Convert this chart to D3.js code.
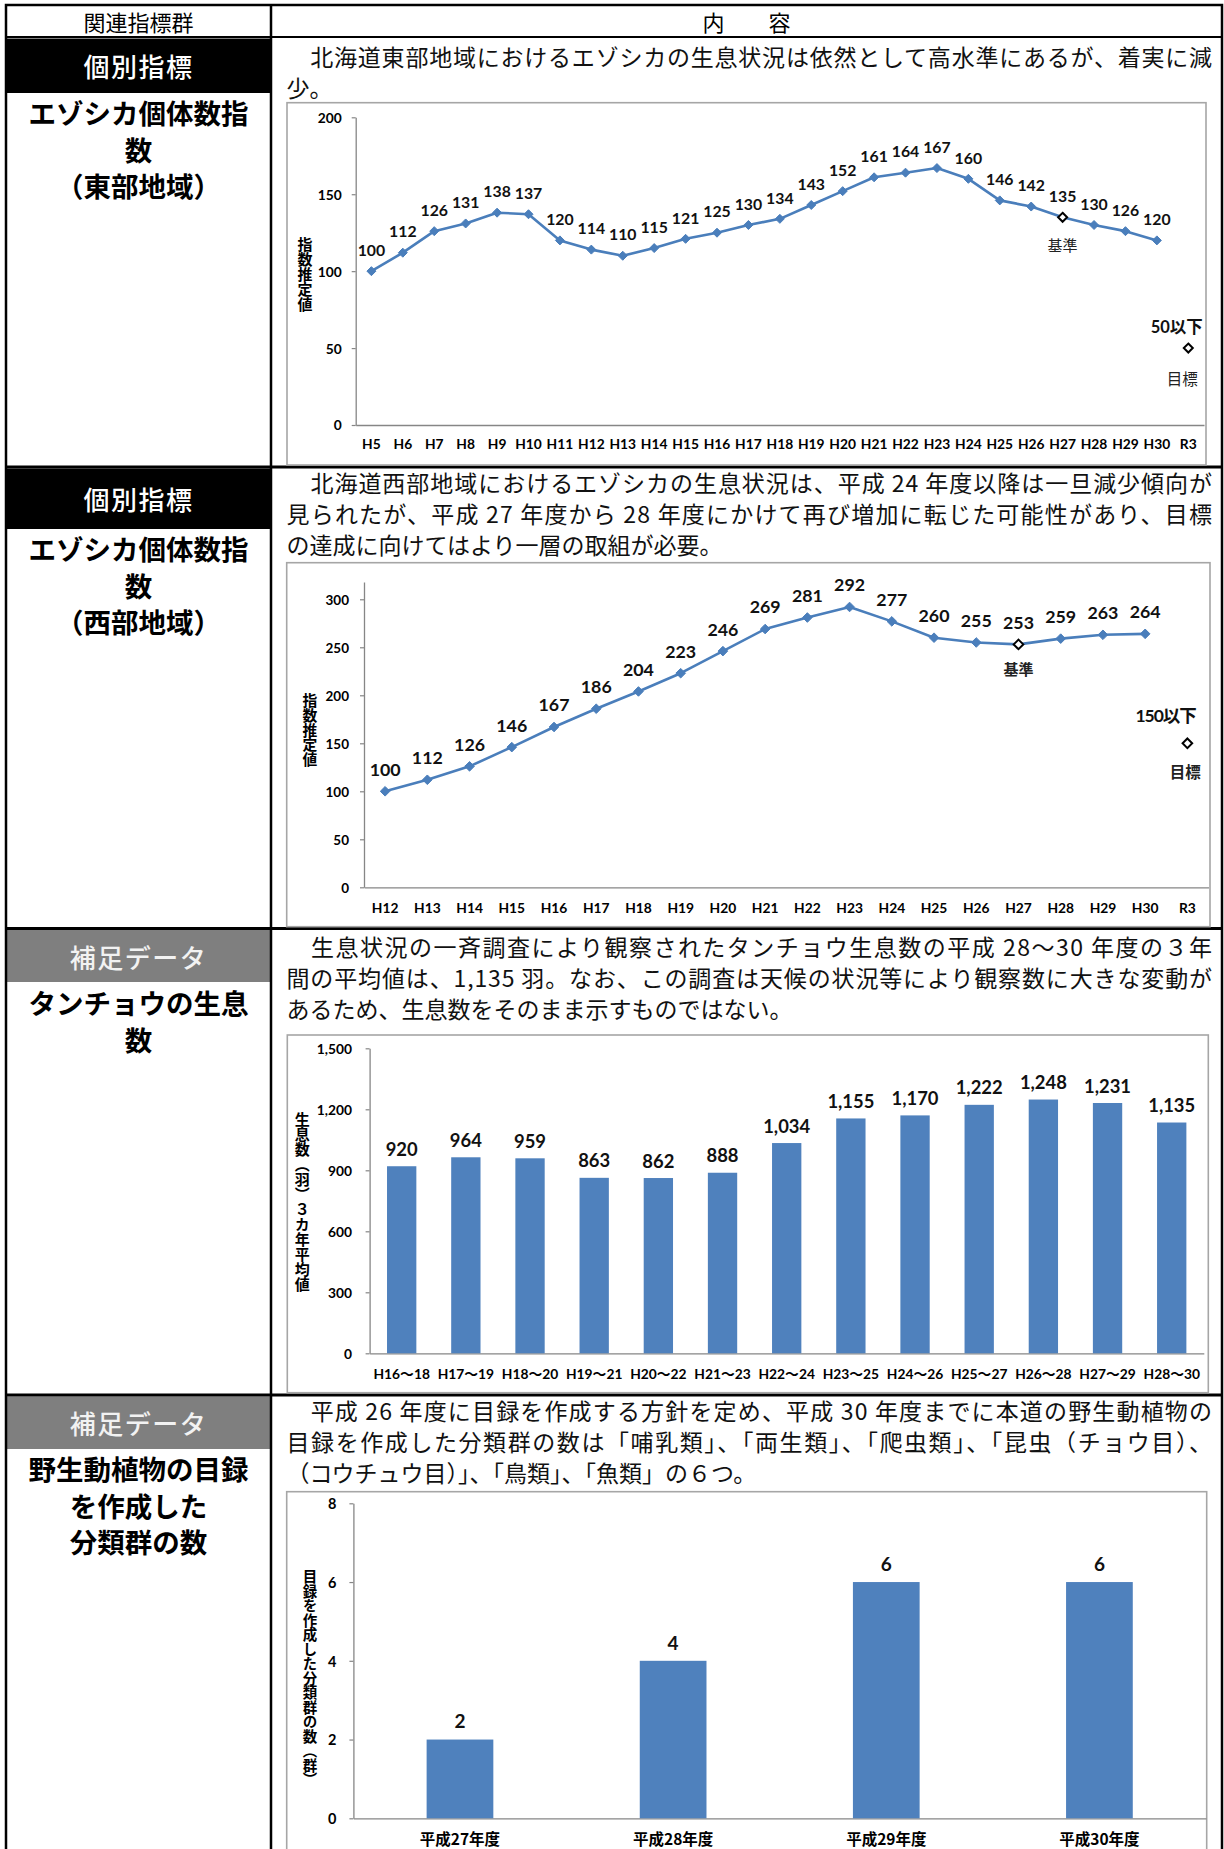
<!DOCTYPE html>
<html><head><meta charset="utf-8">
<script src="https://cdn.jsdelivr.net/npm/d3@7"></script>
<style>
html,body{margin:0;padding:0;background:#fff;}
svg{display:block;}
</style></head><body>
<svg id="c" width="1224" height="1849"></svg>
<script>
// ---------------- DATA ----------------
const eastCats = ["H5","H6","H7","H8","H9","H10","H11","H12","H13","H14","H15","H16","H17","H18","H19","H20","H21","H22","H23","H24","H25","H26","H27","H28","H29","H30","R3"];
const eastVals = [100,112,126,131,138,137,120,114,110,115,121,125,130,134,143,152,161,164,167,160,146,142,135,130,126,120];
const eastBaseCat = "H27";
const eastTargetCat = "R3";
const eastTargetVal = 50;
const eastTargetLabel = "50以下";
const eastTicks = [0,50,100,150,200];

const westCats = ["H12","H13","H14","H15","H16","H17","H18","H19","H20","H21","H22","H23","H24","H25","H26","H27","H28","H29","H30","R3"];
const westVals = [100,112,126,146,167,186,204,223,246,269,281,292,277,260,255,253,259,263,264];
const westBaseCat = "H27";
const westTargetCat = "R3";
const westTargetVal = 150;
const westTargetLabel = "150以下";
const westTicks = [0,50,100,150,200,250,300];

const craneCats = ["H16～18","H17～19","H18～20","H19～21","H20～22","H21～23","H22～24","H23～25","H24～26","H25～27","H26～28","H27～29","H28～30"];
const craneVals = [920,964,959,863,862,888,1034,1155,1170,1222,1248,1231,1135];
const craneTicks = [0,300,600,900,1200,1500];

const catalogCats = ["平成27年度","平成28年度","平成29年度","平成30年度"];
const catalogVals = [2,4,6,6];
const catalogTicks = [0,2,4,6,8];

const headerLeft = "関連指標群";
const headerRight = "内　　容";
const rowTags = ["個別指標","個別指標","補足データ","補足データ"];
const rowNames = [
  ["エゾシカ個体数指","数","（東部地域）"],
  ["エゾシカ個体数指","数","（西部地域）"],
  ["タンチョウの生息","数"],
  ["野生動植物の目録","を作成した","分類群の数"]
];
const rowTexts = [
  ["　北海道東部地域におけるエゾシカの生息状況は依然として高水準にあるが、着実に減","少。"],
  ["　北海道西部地域におけるエゾシカの生息状況は、平成 24 年度以降は一旦減少傾向が","見られたが、平成 27 年度から 28 年度にかけて再び増加に転じた可能性があり、目標","の達成に向けてはより一層の取組が必要。"],
  ["　生息状況の一斉調査により観察されたタンチョウ生息数の平成 28～30 年度の３年","間の平均値は、1,135 羽。なお、この調査は天候の状況等により観察数に大きな変動が","あるため、生息数をそのまま示すものではない。"],
  ["　平成 26 年度に目録を作成する方針を定め、平成 30 年度までに本道の野生動植物の","目録を作成した分類群の数は「哺乳類」、「両生類」、「爬虫類」、「昆虫（チョウ目）、","（コウチュウ目）」、「鳥類」、「魚類」の６つ。"]
];
const axisTitles = ["指数推定値","指数推定値","生息数（羽）３カ年平均値","目録を作成した分類群の数（群）"];
const baseLabel = "基準";
const targetLabel = "目標";

// ---------------- LAYOUT ----------------
const JP = "'Noto Sans CJK JP','Noto Sans CJK SC',sans-serif";
const NUM = "Lato,'Noto Sans CJK JP',sans-serif";
const svg = d3.select("#c");
const T = {left:6, right:1222, top:5, col:271};
const rowLines = [37, 467, 928.5, 1395];
const tagBoxes = [[38.5,93],[468.5,529],[930,982],[1396.5,1449]];
const tagFills = ["#000","#000","#7f7f7f","#7f7f7f"];
const tagColors = ["#fff","#fff","#f2f2f2","#f2f2f2"];
const nameY = [[112,148.5,185],[548,584.5,621],[1002,1038.5],[1468,1504.5,1541]];
const textY0 = [55.5,482,945.5,1410];
const lineStep = 31.2;
const textX = 286.5, textW = 925.5;

// tag boxes
tagBoxes.forEach((b,i)=>{
  svg.append("rect").attr("x",T.left).attr("y",b[0]).attr("width",T.col-T.left).attr("height",b[1]-b[0]).attr("fill",tagFills[i]);
  svg.append("text").attr("x",(T.left+T.col)/2).attr("y",(b[0]+b[1])/2).attr("text-anchor","middle")
    .attr("dominant-baseline","central").attr("fill",tagColors[i])
    .style("font-family",JP).style("font-size","26px").style("font-weight",500).style("letter-spacing","1.5px")
    .text(rowTags[i]);
  rowNames[i].forEach((s,j)=>{
    svg.append("text").attr("x",(T.left+T.col)/2).attr("y",nameY[i][j]).attr("text-anchor","middle")
      .attr("dominant-baseline","central").attr("fill","#000")
      .style("font-family",JP).style("font-size","27.5px").style("font-weight",700)
      .text(s);
  });
  rowTexts[i].forEach((s,j)=>{
    const t = svg.append("text").attr("x",textX).attr("y",textY0[i]+j*lineStep)
      .attr("dominant-baseline","central").attr("fill","#111")
      .style("font-family",JP).style("font-size","23px").style("font-weight",400).text(s);
    if (j < rowTexts[i].length-1) t.attr("textLength",textW).attr("lengthAdjust","spacing");
  });
});

// header
svg.append("text").attr("x",(T.left+T.col)/2).attr("y",21).attr("text-anchor","middle").attr("dominant-baseline","central")
  .style("font-family",JP).style("font-size","22px").style("font-weight",400).text(headerLeft);
svg.append("text").attr("x",(T.col+T.right)/2).attr("y",21).attr("text-anchor","middle").attr("dominant-baseline","central")
  .style("font-family",JP).style("font-size","22px").style("font-weight",400).text(headerRight);

// grid lines
svg.append("rect").attr("x",T.left).attr("y",T.top).attr("width",T.right-T.left).attr("height",1860)
  .attr("fill","none").attr("stroke","#000").attr("stroke-width",2.5);
svg.append("line").attr("x1",T.col).attr("x2",T.col).attr("y1",T.top).attr("y2",1849).attr("stroke","#000").attr("stroke-width",2.5);
rowLines.forEach((y,i)=>{
  svg.append("line").attr("x1",T.left).attr("x2",T.right).attr("y1",y).attr("y2",y).attr("stroke","#000").attr("stroke-width",i===0?2:3);
});

// ---------------- CHARTS ----------------
const axisColor = "#868686";
const frameColor = "#a6a6a6";
const blue = "#4a7ebb";
const barBlue = "#4f81bd";

function diamond(r){ return `M0,${-r}L${r},0L0,${r}L${-r},0Z`; }

function frame(x0,y0,x1,y1){
  svg.append("rect").attr("x",x0).attr("y",y0).attr("width",x1-x0).attr("height",y1-y0)
    .attr("fill","#fff").attr("stroke",frameColor).attr("stroke-width",1.6);
}

function axes(g, x, y, ticks, o){
  const ya = g.append("g").attr("transform",`translate(${x.range()[0]},0)`)
    .call(d3.axisLeft(y).tickValues(ticks).tickSize(4).tickSizeOuter(0).tickPadding(o.yPad).tickFormat(d3.format(",")));
  ya.select(".domain").attr("stroke",axisColor).attr("stroke-width",1.3);
  ya.selectAll(".tick line").attr("stroke",axisColor).attr("stroke-width",1.2);
  ya.selectAll("text").attr("fill","#000").attr("dy","0.36em")
    .style("font-family",NUM).style("font-size",o.yFont+"px").style("font-weight",700);
  const xa = g.append("g").attr("transform",`translate(0,${y(0)})`)
    .call(d3.axisBottom(x).tickSize(0).tickSizeOuter(0).tickPadding(0));
  xa.select(".domain").attr("stroke",axisColor).attr("stroke-width",1.3);
  xa.selectAll("text").attr("fill","#000").attr("y",o.xOff).attr("dy","0.36em")
    .style("font-family",o.xFamily||NUM).style("font-size",o.xFont+"px").style("font-weight",700);
  g.append("text").attr("x",o.tx).attr("y",o.ty).attr("text-anchor","middle")
    .style("writing-mode","vertical-rl").style("font-family",JP).style("font-size",o.tf+"px").style("font-weight",700)
    .attr("fill","#000").text(o.title);
}

function lineChart(o){
  frame(...o.frame);
  const g = svg.append("g");
  const x = d3.scaleBand().domain(o.cats).range(o.xr).padding(0);
  const y = d3.scaleLinear().domain([0,o.yMax]).range(o.yr);
  axes(g,x,y,o.ticks,o);
  const cx = c => x(c)+x.bandwidth()/2;
  const pts = o.vals.map((v,i)=>({c:o.cats[i],v}));
  g.append("path").datum(pts).attr("fill","none").attr("stroke",blue).attr("stroke-width",2.6)
    .attr("stroke-linejoin","round")
    .attr("d",d3.line().x(d=>cx(d.c)).y(d=>y(d.v)));
  g.selectAll("path.m").data(pts.filter(d=>d.c!==o.base)).join("path").attr("class","m")
    .attr("transform",d=>`translate(${cx(d.c)},${y(d.v)})`).attr("d",diamond(o.mr)).attr("fill",blue).attr("stroke",blue).attr("stroke-width",1);
  g.selectAll("text.lab").data(pts).join("text").attr("class","lab")
    .attr("x",d=>cx(d.c)).attr("y",d=>y(d.v)-o.labOff).attr("dy","0.36em").attr("text-anchor","middle")
    .attr("fill","#111").style("font-family",NUM).style("font-size",o.labFont+"px").style("font-weight",700)
    .text(d=>d.v);
  const bv = pts.find(d=>d.c===o.base).v;
  g.append("path").attr("transform",`translate(${cx(o.base)},${y(bv)})`).attr("d",diamond(o.mr))
    .attr("fill","#fff").attr("stroke","#000").attr("stroke-width",2);
  g.append("text").attr("x",cx(o.base)).attr("y",y(bv)+o.baseOff).attr("text-anchor","middle").attr("dominant-baseline","central")
    .attr("fill","#222").style("font-family",JP).style("font-size","15px").style("font-weight",o.jpWeight).text(baseLabel);
  const tx = cx(o.tCat), ty = y(o.tVal);
  g.append("path").attr("transform",`translate(${tx},${ty})`).attr("d",diamond(o.mr))
    .attr("fill","#fff").attr("stroke","#000").attr("stroke-width",2);
  g.append("text").attr("x",tx+o.tLabDx).attr("y",ty-o.tLabUp).attr("dy","0.36em").attr("text-anchor","end")
    .attr("fill","#111").style("font-family",NUM).style("font-size",o.tLabFont+"px").style("font-weight",700)
    .style("letter-spacing",o.tLabLs+"px").text(o.tLabel);
  g.append("text").attr("x",tx+o.goalDx).attr("y",ty+o.goalDown).attr("text-anchor","end").attr("dominant-baseline","central")
    .attr("fill","#222").style("font-family",JP).style("font-size","15.5px").style("font-weight",o.jpWeight).text(targetLabel);
}

function barChart(o){
  frame(...o.frame);
  const g = svg.append("g");
  const x = d3.scaleBand().domain(o.cats).range(o.xr).paddingInner(o.pad).paddingOuter(o.pad/2);
  const y = d3.scaleLinear().domain([0,o.yMax]).range(o.yr);
  axes(g,x,y,o.ticks,o);
  const data = o.vals.map((v,i)=>({c:o.cats[i],v}));
  g.selectAll("rect.b").data(data).join("rect").attr("class","b")
    .attr("x",d=>x(d.c)).attr("width",x.bandwidth()).attr("y",d=>y(d.v)).attr("height",d=>y(0)-y(d.v))
    .attr("fill",barBlue);
  g.selectAll("text.lab").data(data).join("text").attr("class","lab")
    .attr("x",d=>x(d.c)+x.bandwidth()/2).attr("y",d=>y(d.v)-o.labOff).attr("dy","0.36em").attr("text-anchor","middle")
    .attr("fill","#111").style("font-family",NUM).style("font-size",o.labFont+"px").style("font-weight",700)
    .text(d=>d3.format(",")(d.v));
}

lineChart({frame:[287,102.7,1206,465], cats:eastCats, vals:eastVals, xr:[355.7,1204], yMax:200, yr:[425,117.3],
  ticks:eastTicks, yPad:10, yFont:13.8, xOff:19, xFont:13.8, tx:305, ty:274, tf:15, title:axisTitles[0],
  mr:4.5, labOff:21, labFont:15.8, base:eastBaseCat, baseOff:27, jpWeight:400,
  tCat:eastTargetCat, tVal:eastTargetVal, tLabel:eastTargetLabel, tLabDx:14.5, tLabUp:21, tLabFont:16.5, tLabLs:0,
  goalDx:9.5, goalDown:30});

lineChart({frame:[286.7,562.7,1210,926.7], cats:westCats, vals:westVals, xr:[364,1208.5], yMax:318, yr:[887.3,582],
  ticks:westTicks, yPad:11, yFont:13.5, xOff:20.4, xFont:13.8, tx:310, ty:730, tf:14.8, title:axisTitles[1],
  mr:4.8, labOff:22, labFont:17.8, base:westBaseCat, baseOff:24, jpWeight:700,
  tCat:westTargetCat, tVal:westTargetVal, tLabel:westTargetLabel, tLabDx:8.5, tLabUp:27.7, tLabFont:17.5, tLabLs:-1,
  goalDx:13.5, goalDown:27.3});

barChart({frame:[287.3,1035,1208.3,1392.7], cats:craneCats, vals:craneVals, xr:[369.6,1203.8], yMax:1500, yr:[1353.3,1048.3],
  ticks:craneTicks, yPad:13.5, yFont:13.8, xOff:20.7, xFont:13.8, tx:302.3, ty:1201.7, tf:15, title:axisTitles[2],
  pad:0.543, labOff:17, labFont:18.4});

barChart({frame:[286.7,1491.7,1206.7,1870], cats:catalogCats, vals:catalogVals, xr:[353.4,1206], yMax:8, yr:[1818.3,1503.3],
  ticks:catalogTicks, yPad:13, yFont:14.5, xOff:20.7, xFont:15.5, xFamily:JP, tx:310, ty:1678, tf:14.5, title:axisTitles[3],
  pad:0.687, labOff:18, labFont:19});
</script>
</body></html>
